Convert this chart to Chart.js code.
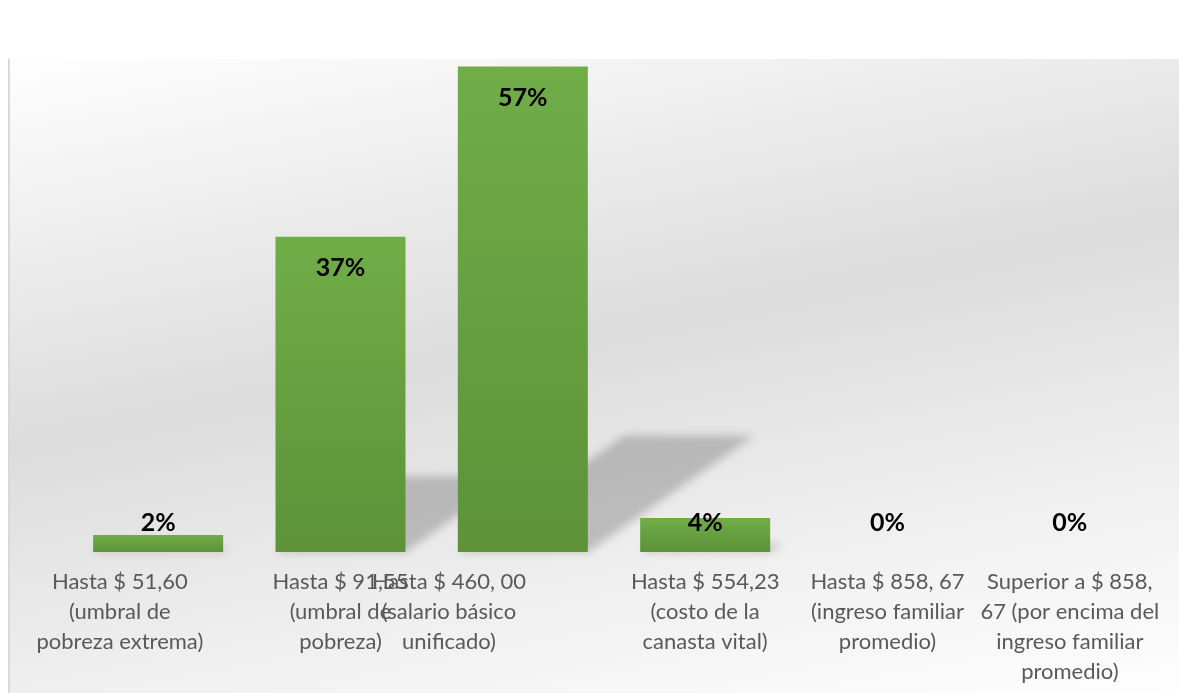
<!DOCTYPE html>
<html>
<head>
<meta charset="utf-8">
<script src="https://cdn.jsdelivr.net/npm/chart.js@4/dist/chart.umd.min.js"></script>
<style>
    html, body { margin: 0; padding: 0; background: #ffffff; }
    #wrap { position: relative; width: 1179px; height: 693px; }
    #bg {
        position: absolute; left: 8px; top: 59px; width: 1169px; height: 634px;
        border-left: 2px solid #d9d9d9;
        background: linear-gradient(169deg, #fefefe 0%, #dcdcdc 45%, #eeeeee 72%, #fefefe 100%);
    }
    #canvas { position: absolute; left: 0; top: 0; }
</style>
</head>
<body>
<div id="wrap">
    <div id="bg"></div>
    <canvas id="canvas" width="1179" height="693"></canvas>
</div>
<script>
// categories (wrapped the way the original chart wraps them)
var categories = [
    ['Hasta $ 51,60', '(umbral de', 'pobreza extrema)'],
    ['Hasta $ 91,55', '(umbral de', 'pobreza)'],
    ['Hasta $ 460, 00', '(salario básico', 'unificado)'],
    ['Hasta $ 554,23', '(costo de la', 'canasta vital)'],
    ['Hasta $ 858, 67', '(ingreso familiar', 'promedio)'],
    ['Superior a $ 858,', '67 (por encima del', 'ingreso familiar', 'promedio)']
];
var percentages = [2, 37, 57, 4, 0, 0];
var yMax = 58;

// the original nudges some axis labels left (fraction of a category width)
var LABEL_NUDGE = [-0.21, 0, -0.405, 0, 0, 0];

document.addEventListener('DOMContentLoaded', function () {

    var canvas = document.getElementById('canvas');

    // green gradient per bar, from its top to the baseline
    function barFill(context) {
        var chart = context.chart;
        var yScale = chart.scales.y;
        if (!chart.chartArea || !yScale) {
            return '#66a141';
        }
        var top = yScale.getPixelForValue(context.raw);
        var base = yScale.getPixelForValue(0);
        if (base - top < 1) {
            return '#66a141';
        }
        var g = chart.ctx.createLinearGradient(0, top, 0, base);
        g.addColorStop(0, '#70ad47');
        g.addColorStop(1, '#5d9239');
        return g;
    }

    // perspective shadow cast on the "floor" behind the bars
    var floorShadow = {
        id: 'floorShadow',
        beforeDatasetsDraw: function (chart) {
            var ctx = chart.ctx;
            var meta = chart.getDatasetMeta(0);
            ctx.save();
            ctx.filter = 'blur(4px)';
            ctx.fillStyle = 'rgba(0, 0, 0, 0.2)';
            meta.data.forEach(function (bar) {
                var h = bar.base - bar.y;
                if (h < 1) return;
                var l = bar.x - bar.width / 2;
                var r = bar.x + bar.width / 2;
                var dx = h * 0.343;
                var dy = h * 0.24;
                ctx.beginPath();
                ctx.moveTo(l, bar.base);
                ctx.lineTo(r, bar.base);
                ctx.lineTo(r + dx, bar.base - dy);
                ctx.lineTo(l + dx, bar.base - dy);
                ctx.closePath();
                ctx.fill();
            });
            ctx.restore();
        }
    };

    // shift some category labels like the original does
    var nudgeLabels = {
        id: 'nudgeLabels',
        beforeDraw: function (chart) {
            var xScale = chart.scales.x;
            var step = xScale.width / categories.length;
            var items = xScale.getLabelItems(chart.chartArea);
            items.forEach(function (item, i) {
                if (LABEL_NUDGE[i]) {
                    item.options.translation[0] += LABEL_NUDGE[i] * step;
                }
            });
        }
    };

    // value labels at the inside end of each bar
    var valueLabels = {
        id: 'valueLabels',
        afterDatasetsDraw: function (chart) {
            var ctx = chart.ctx;
            var meta = chart.getDatasetMeta(0);
            ctx.save();
            ctx.font = 'bold 25px Lato';
            ctx.fillStyle = '#000000';
            ctx.textAlign = 'center';
            ctx.textBaseline = 'middle';
            meta.data.forEach(function (bar, i) {
                var y = Math.min(bar.y + 31, bar.base - 29);
                ctx.fillText(percentages[i] + '%', bar.x, y);
            });
            ctx.restore();
        }
    };

    var config = {
        type: 'bar',
        data: {
            labels: categories,
            datasets: [
                {
                    data: percentages,
                    backgroundColor: barFill,
                    borderWidth: 0,
                    categoryPercentage: 1,
                    barPercentage: 0.713,
                }
            ]
        },
        options: {
            responsive: false,
            animation: false,
            layout: {
                padding: { left: 67, right: 18, top: 58, bottom: 0 }
            },
            plugins: {
                legend: { display: false },
                tooltip: { enabled: false },
            },
            scales: {
                x: {
                    grid: { display: false, drawTicks: false },
                    border: { display: false },
                    afterFit: function (scale) {
                        scale.height = 141;
                    },
                    ticks: {
                        autoSkip: false,
                        maxRotation: 0,
                        minRotation: 0,
                        padding: 15,
                        color: '#595959',
                        font: { family: 'Lato', size: 22, lineHeight: '30px' },
                    }
                },
                y: {
                    display: false,
                    min: 0,
                    max: yMax,
                }
            }
        },
        plugins: [floorShadow, nudgeLabels, valueLabels],
    };

    window.chart = new Chart(canvas, config);
});
</script>
</body>
</html>
